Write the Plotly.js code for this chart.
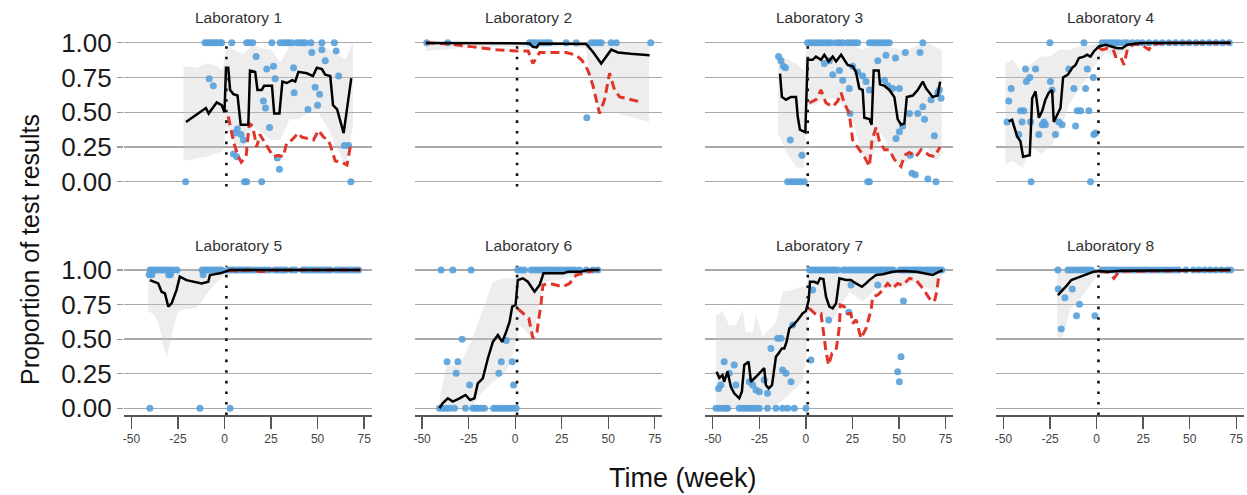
<!DOCTYPE html>
<html><head><meta charset="utf-8">
<script src="https://cdn.plot.ly/plotly-3.0.1.min.js"></script>
<style>html,body{margin:0;padding:0;background:#fff}#chart{width:1247px;height:495px}</style>
</head><body><div id="chart"></div>
<script>
const LAB_NAMES = ['Laboratory 1','Laboratory 2','Laboratory 3','Laboratory 4','Laboratory 5','Laboratory 6','Laboratory 7','Laboratory 8'];
const X_TICKS = [-50,-25,0,25,50,75];
const X_TICK_TEXT = ['-50','-25','0','25','50','75'];
const Y_TICKS = [0,0.25,0.5,0.75,1];
const Y_TICK_TEXT = ['0.00','0.25','0.50','0.75','1.00'];
const INTERVENTION_WEEK = 1;
const X_TITLE = 'Time (week)';
const Y_TITLE = 'Proportion of test results';

// ---- Laboratory 1 ----
const lab1PtsX = [-10.5,-9.2,-7.8,-6.4,-5.1,-3.9,-2.4,-1.5,3.9,11.9,13.4,15.2,25.4,29.9,31.7,33.5,34.4,36.2,38.9,40.7,42.1,43.4,46.4,52.3,59,
  -8.2,-6.0,46.9,52.3,60.0,17,54.1,26.3,22.7,37.1,61.3,27.2,37.4,48.7,51.1,50,44.8,20.9,22,24.2,6.9,5.7,8.9,10.2,4.8,6.6,28.4,29.5,64.4,66.7,
  -20.9,10.7,11.9,20,67.9];
const lab1PtsY = [1,1,1,1,1,1,1,1,1,1,1,1,1,1,1,1,1,1,1,1,1,1,1,1,1,
  0.74,0.69,0.93,0.95,0.94,0.90,0.87,0.83,0.81,0.82,0.76,0.74,0.64,0.68,0.63,0.55,0.52,0.58,0.53,0.39,0.38,0.35,0.34,0.30,0.20,0.18,0.17,0.09,0.26,0.26,
  0,0,0,0,0];
const lab1LineX = [-20.7,-10,-8.5,-4.2,-1.5,0,0.8,2,3,4.8,7,8.7,12.8,13.7,16.5,17.7,20,21.3,25.5,26.7,29.5,31.1,33.5,36.4,38,39.7,44.3,47.5,49.6,52.3,54.1,56.8,58.3,60.5,64,68.1];
const lab1LineY = [0.43,0.53,0.49,0.57,0.55,0.50,0.82,0.82,0.66,0.63,0.62,0.41,0.41,0.80,0.79,0.66,0.66,0.69,0.69,0.49,0.49,0.72,0.71,0.73,0.72,0.79,0.78,0.76,0.82,0.81,0.77,0.76,0.55,0.52,0.35,0.745];
const lab1RedX = [2,3,5,7.4,9,11.6,13.3,15.1,17.3,19,21.7,23.5,26.2,28.9,31.6,33.4,36.1,39.7,41.5,45.1,47.8,50.5,53.2,55.9,57.7,59.5,63.1,65.8,67.6];
const lab1RedY = [0.47,0.40,0.28,0.18,0.14,0.18,0.42,0.40,0.25,0.34,0.28,0.25,0.18,0.19,0.18,0.28,0.30,0.35,0.32,0.31,0.30,0.37,0.32,0.30,0.22,0.15,0.14,0.12,0.255];
const lab1BandX = [-22,-15,-10,-5,-1,1,5,10,15,20,25,30,35,40,45,50,55,60,65,69];
const lab1BandHi = [0.83,0.82,0.85,0.84,0.80,0.98,0.95,0.92,0.98,0.96,0.95,0.86,0.98,1.0,0.98,1.0,0.96,0.92,0.88,1.0];
const lab1BandLo = [0.15,0.17,0.18,0.20,0.22,0.40,0.28,0.25,0.40,0.35,0.30,0.30,0.45,0.45,0.50,0.50,0.40,0.25,0.12,0.40];

// ---- Laboratory 2 ----
const lab2PtsX = [-47.5,-36.2,7.7,9.1,10.9,12.7,14.9,16.7,18.5,27.4,32.8,40.9,42.7,44.5,46.2,51.6,54.3,72.8,38.5];
const lab2PtsY = [1,1,1,1,1,1,1,1,1,1,1,1,1,1,1,1,1,1,0.46];
const lab2LineX = [-48,-20,0,7.7,9.5,11.5,13,20,30,38.2,42,46.2,51.6,55.2,62,72.2];
const lab2LineY = [0.997,0.995,0.995,0.995,0.97,0.966,0.995,0.995,0.995,0.99,0.93,0.85,0.95,0.93,0.92,0.91];
const lab2RedX = [-48,-35,-22.8,-10,0.5,7,9.5,13.1,20,27.4,32.8,36,39.1,41.8,45.3,48,50.7,53.4,56.1,62,68.6];
const lab2RedY = [1.0,0.99,0.97,0.95,0.94,0.94,0.85,0.93,0.93,0.93,0.91,0.87,0.80,0.69,0.49,0.59,0.78,0.66,0.61,0.59,0.57];
const lab2BandX = [-48,-30,-10,0,10,20,30,38,42,46,55,72];
const lab2BandHi = [1,1,1,1,1,1,1,1,1,1,1,1];
const lab2BandLo = [0.94,0.96,0.97,0.97,0.96,0.97,0.97,0.96,0.62,0.50,0.49,0.43];

// ---- Laboratory 3 ----
const lab3PtsX = [0.9,2.7,4.5,6.3,8.1,9.9,11.7,13.5,16.2,18,19.8,22.4,24.2,26,27.8,34.1,35.9,37.7,39.5,41.3,43.1,44.8,62.8,
  -9.8,-8,-6.2,-4.4,-2.7,-0.9,33.2,34.1,
  -14.7,-13.4,-12.1,-11,-8.4,-2.1,9.9,12.6,18,14.4,19.8,23.3,23.7,25.1,27.8,30.5,32.3,34.1,38.6,43,48.1,53.4,61.3,
  42.2,44,46.6,50.2,55.6,60.1,62.8,63.7,52,50.2,48.4,56.1,57,58.8,65.5,69.9,69,67.2,70.8,72.6,71.7];
const lab3PtsY = [1,1,1,1,1,1,1,1,1,1,1,1,1,1,1,1,1,1,1,1,1,1,1,
  0,0,0,0,0,0,0,0,
  0.90,0.87,0.83,0.82,0.30,0.19,0.85,0.87,0.80,0.77,0.73,0.67,0.49,0.83,0.79,0.76,0.72,0.66,0.87,0.91,0.89,0.93,0.93,
  0.73,0.69,0.67,0.67,0.49,0.49,0.54,0.45,0.40,0.36,0.31,0.19,0.06,0.05,0.02,0.0,0.33,0.59,0.64,0.60,0.66];
const lab3LineX = [-13.9,-12.9,-10.7,-8,-5.3,-4.4,-3.2,-0.3,0.9,3.6,5.4,8.1,9.9,12.2,14.4,16.2,18.9,20.6,22.4,25.1,26.9,28.7,30.5,31.4,34.1,35.3,36.4,39.1,39.8,42.2,44.8,47.5,49.3,51.1,52.9,54.2,57.4,60.1,62.8,64.6,68.1,70.8,72.1];
const lab3LineY = [0.777,0.61,0.59,0.61,0.61,0.47,0.374,0.355,0.877,0.877,0.90,0.877,0.913,0.865,0.90,0.865,0.913,0.877,0.84,0.83,0.79,0.67,0.66,0.46,0.45,0.41,0.80,0.80,0.70,0.69,0.66,0.61,0.45,0.41,0.42,0.61,0.62,0.66,0.72,0.67,0.61,0.62,0.72];
const lab3RedX = [1.8,5.4,8.1,10.8,14.4,17.1,18.9,20.6,23.3,25.1,28.7,31.4,34.1,35.5,37.7,39.5,42.2,44.8,47.5,51.1,52.9,55.6,59.2,61.9,66.3,69,72.1];
const lab3RedY = [0.566,0.59,0.66,0.566,0.54,0.58,0.64,0.566,0.49,0.30,0.23,0.18,0.11,0.30,0.39,0.29,0.23,0.23,0.16,0.11,0.19,0.21,0.18,0.23,0.19,0.18,0.25];
const lab3BandX = [-15,-10,-5,-1,0.5,5,10,15,20,25,30,35,40,45,50,55,60,65,70,73];
const lab3BandHi = [0.92,0.88,0.85,0.80,1.0,1.0,1.0,1.0,1.0,0.98,0.95,0.97,1.0,0.97,0.95,0.95,0.98,1.0,0.97,0.95];
const lab3BandLo = [0.35,0.20,0.10,0.10,0.55,0.55,0.60,0.60,0.55,0.45,0.20,0.15,0.35,0.25,0.12,0.15,0.20,0.25,0.15,0.20];

// ---- Laboratory 4 ----
const lab4PtsX = [-25.1,-6.8,3,4.8,6.6,8.4,10.2,12,14.7,16.5,19.2,21.9,24.6,28.1,31.7,35.3,38.9,42.5,46.1,49.7,53.3,56.9,60.5,64.1,67.7,71.3,
  -38.2,-32.8,-35.9,-37.7,-45.9,-47.2,-40.9,-39.1,-40,-48.1,-41.8,-35.5,-31,-28.3,-29.2,-27.5,-24.8,-23.9,-22.1,-20.3,
  -18.5,-14.9,-12.2,-10.4,-8.6,-11.3,-5.9,-5,-4.2,-1.8,-1.5,-0.6,-35.2,-3.3];
const lab4PtsY = [1,1,1,1,1,1,1,1,1,1,1,1,1,1,1,1,1,1,1,1,1,1,1,1,1,1,
  0.81,0.81,0.75,0.72,0.67,0.58,0.51,0.51,0.43,0.43,0.34,0.43,0.34,0.43,0.41,0.41,0.72,0.66,0.34,0.43,
  0.41,0.81,0.67,0.51,0.51,0.40,0.67,0.81,0.51,0.75,0.34,0.35,0,0];
const lab4LineX = [-47.2,-45.4,-42.7,-40.9,-39.5,-35.9,-34.6,-32.8,-31,-29.2,-27.5,-25.7,-23.9,-23,-21.2,-19.4,-18,-15.4,-13.1,-11.3,-9.5,-6.8,-5.1,-3.3,-1.5,1.2,4.8,8.4,11.1,13.8,16.5,23.6,72];
const lab4LineY = [0.434,0.445,0.326,0.29,0.18,0.19,0.60,0.65,0.46,0.51,0.59,0.64,0.66,0.43,0.48,0.53,0.75,0.77,0.82,0.84,0.89,0.90,0.913,0.90,0.937,0.973,0.985,0.973,0.96,0.96,0.985,0.997,1.0];
const lab4RedX = [1.5,3,6,9.3,10.2,12.9,14.7,16.5,20,24,28.1,30,35,40,72];
const lab4RedY = [0.96,0.95,0.96,0.94,0.90,0.90,0.84,0.95,0.99,0.985,0.95,0.99,0.995,0.998,0.998];
const lab4BandX = [-49,-45,-40,-35,-30,-25,-20,-15,-10,-5,0,5,10,20,40,72];
const lab4BandHi = [0.85,0.88,0.78,0.85,0.90,0.90,0.95,0.95,0.97,0.98,0.99,1,1,1,1,1];
const lab4BandLo = [0.12,0.15,0.10,0.25,0.20,0.25,0.35,0.55,0.65,0.75,0.85,0.93,0.90,0.97,0.99,0.99];

// ---- Laboratory 5 ----
const lab5PtsX = [-40,-38.5,-37,-35.5,-34,-32.5,-31,-29.5,-27.5,-25.5,-12,-10.5,-9,-7.5,-6,-4.5,-3,-1.5,
  -40.5,-39,-30,-29,-11.5,
  2,3.5,5,6.5,8,9.5,11,12.5,14,16,18,20,22,24,27,28.5,30,31.5,33,36,38,42,43.5,45,46.5,48,49.5,51,52.5,54,55.5,57,60,62,64,66,68,70,72,
  -40.1,-13.2,3];
const lab5PtsY = [1,1,1,1,1,1,1,1,1,1,1,1,1,1,1,1,1,1,
  0.965,0.965,0.965,0.965,0.965,
  1,1,1,1,1,1,1,1,1,1,1,1,1,1,1,1,1,1,1,1,1,1,1,1,1,1,1,1,1,1,1,1,1,1,1,1,1,1,1,
  0,0,0];
const lab5LineX = [-40.1,-37.4,-35.6,-33.8,-32,-30.2,-28.4,-25.8,-24,-20.4,-16.8,-12.3,-8.7,-7.8,-2.4,0.3,3,73];
const lab5LineY = [0.927,0.915,0.903,0.843,0.831,0.735,0.759,0.855,0.952,0.927,0.915,0.903,0.915,0.964,0.976,0.988,1.0,1.0];
const lab5RedX = [2,5,7,9,15,19,22,25,40,73];
const lab5RedY = [1,0.997,0.988,0.997,0.998,0.99,0.99,0.998,1,1];
const lab5BandX = [-41,-38,-35,-33,-31,-28,-25,-20,-15,-10,-5,0,5,73];
const lab5BandHi = [1,1,1,1,1,1,1,1,1,1,1,1,1,1];
const lab5BandLo = [0.70,0.68,0.60,0.45,0.37,0.55,0.70,0.72,0.72,0.82,0.90,0.96,0.99,0.99];

// ---- Laboratory 6 ----
const lab6PtsX = [-39.8,-33.5,-23.7,1.4,3.2,5,8.6,10.4,12.2,14,15.8,17.6,19.4,21.2,23,24.8,26.6,28.4,30.2,32,34.6,38.2,41.8,44.4,
  -28.5,-36.6,-30.8,-4.8,-7.5,-1.6,-31.7,-8.8,-24.5,-0.9,
  -40.7,-38.9,-37.1,-35.3,-32.6,-26.7,-22.8,-21.3,-20.1,-18.3,-16.5,-11.6,-10.2,-8.4,-6.6,-4.8,-3.0,-1.2,0.5];
const lab6PtsY = [1,1,1,1,1,1,1,1,1,1,1,1,1,1,1,1,1,1,1,1,1,1,1,1,
  0.5,0.337,0.337,0.49,0.337,0.337,0.253,0.253,0.168,0.168,
  0,0,0,0,0,0,0,0,0,0,0,0,0,0,0,0,0,0,0];
const lab6LineX = [-40.7,-39,-36.2,-33.5,-29.9,-26.7,-24.2,-21.9,-20.1,-17.4,-14.7,-12,-9.3,-7,-4.8,-3,-1.6,0.2,1.4,4.1,6.8,10.4,13.1,15.2,20,26,28.4,35,39.1,45.3];
const lab6LineY = [0,0.036,0.072,0.048,0.072,0.096,0.06,0.072,0.18,0.217,0.36,0.48,0.53,0.48,0.554,0.626,0.735,0.747,0.927,0.94,0.915,0.843,0.891,0.976,0.976,0.976,0.988,0.988,1.0,1.0];
const lab6RedX = [1.4,5,7.3,9.5,11.7,14,14.9,18.5,22.9,25.6,29.2,32.8,36.4,41.8];
const lab6RedY = [0.72,0.675,0.65,0.506,0.554,0.771,0.891,0.903,0.891,0.879,0.903,0.964,0.976,0.993];
const lab6BandX = [-41,-37.1,-29.9,-22.8,-17.4,-12,-6.6,-3,0.5,2.3,9.5,13.1,16.7,27.4,41.8,45.3];
const lab6BandHi = [0.03,0.31,0.31,0.51,0.72,0.915,0.94,0.94,0.94,1,1,1,1,1,1,1];
const lab6BandLo = [0,0,0,0.02,0.12,0.19,0.24,0.31,0.48,0.60,0.506,0.77,0.915,0.94,0.99,0.99];

// ---- Laboratory 7 ----
const lab7PtsX = [-48.3,-46.5,-44.8,-43,-42.1,-35.8,-34,-32.2,-30.4,-28.6,-26.8,-25,-20.6,-16.1,-12.5,-9.8,-6.2,0,
  -43.9,-46.9,-45.7,-41.2,-38.5,-37.6,-30.4,-28.6,-26.8,-25,-22.4,-20.6,-18.8,-15.2,-13.4,-12.5,-10.7,-8,-7.1,2.7,
  3.6,12.2,23,24.2,38.6,52.4,51.1,49.3,50.2,
  2,3.5,5,6.5,8,9.5,11,12.5,14,15.5,17,20,21.5,23,24.5,26,27.5,29,30.5,32,33.5,35,36.5,38,39.5,41,42.5,44,45.5,47,
  50.5,52,53.5,55,56.5,58,59.5,61,62.5,64,65.5,67,68.5,70,71.5,73];
const lab7PtsY = [0,0,0,0,0,0,0,0,0,0,0,0,0,0,0,0,0,0,
  0.337,0.144,0.168,0.253,0.313,0.168,0.192,0.168,0.132,0.12,0.204,0.108,0.433,0.506,0.506,0.277,0.253,0.192,0.602,0.349,
  0.855,0.638,0.694,0.891,0.891,0.776,0.373,0.265,0.192,
  1,1,1,1,1,1,1,1,1,1,1,1,1,1,1,1,1,1,1,1,1,1,1,1,1,1,1,1,1,1,
  1,1,1,1,1,1,1,1,1,1,1,1,1,1,1,1];
const lab7LineX = [-48,-46.5,-44.8,-43.9,-42.1,-40.3,-38.5,-35.8,-34.4,-33.1,-30.8,-29.5,-26.8,-24.2,-22.4,-21.5,-20,-18.2,-16.1,-14.7,
  -12.9,-11.6,-10.4,-8.9,-6.8,-4.4,-1.8,0,1.5,2.2,4.5,6.3,7.6,9.4,10.8,12.6,14.4,16.2,18,21.5,
  24.2,26.9,30.1,32.3,34.1,37.7,41.3,46.6,52,59.3,64.6,68.1,70.8,73.5];
const lab7LineY = [0.265,0.22,0.24,0.192,0.265,0.155,0.108,0.072,0.12,0.313,0.337,0.192,0.228,0.265,0.29,0.168,0.144,0.168,0.373,0.397,
  0.433,0.433,0.48,0.578,0.602,0.638,0.686,0.703,0.783,0.915,0.915,0.903,0.94,0.935,0.807,0.735,0.723,0.759,0.94,0.928,
  0.928,0.903,0.879,0.903,0.927,0.964,0.97,0.988,0.993,0.988,0.976,0.964,0.983,1.0];
const lab7RedX = [1.8,5.4,8.1,9,9.9,10.8,12.2,14,16.2,18,18.5,20.6,22.4,24.2,25.1,27,29.6,32.3,35,35.9,38.6,41.3,43.9,46.6,49.3,52,55.6,59,62.8,66.3,69,70.3,71.4];
const lab7RedY = [0.723,0.679,0.686,0.578,0.482,0.41,0.313,0.397,0.42,0.59,0.747,0.735,0.686,0.686,0.614,0.64,0.506,0.578,0.711,0.807,0.819,0.855,0.903,0.867,0.903,0.89,0.94,0.93,0.867,0.795,0.771,0.843,0.964];
const lab7BandX = [-48.3,-44.8,-41.2,-37.6,-34,-32.2,-28.6,-26.8,-23.3,-16.1,-12.5,-8.9,-1.75,0,1.8,9,12.6,18,23.3,30.5,37.7,48.4,57.4,69.9,73.5];
const lab7BandHi = [0.675,0.70,0.60,0.60,0.71,0.55,0.55,0.68,0.52,0.62,0.843,0.85,0.88,0.88,1,1,1,1,1,1,1,1,1,1,1];
const lab7BandLo = [0,0,0,0,0,0,0,0,0,0.02,0.06,0.10,0.192,0.36,0.72,0.675,0.60,0.72,0.843,0.77,0.867,0.867,0.915,0.843,0.97];

// ---- Laboratory 8 ----
const lab8PtsX = [-20.8,-15.4,-13.6,-11.8,-10,-8.2,-6.4,-4.6,-2.8,
  2.8,4.6,6.4,8.2,10,12,14,16,18,20,22,24,26,28,30,32,34,36,38,40,42,44,48,52,55,58,61,64,67,70,72,
  -20.6,-17,-13.1,-9.2,-10.8,-19,-0.9];
const lab8PtsY = [1,1,1,1,1,1,1,1,1,
  1,1,1,1,1,1,1,1,1,1,1,1,1,1,1,1,1,1,1,1,1,1,1,1,1,1,1,1,1,1,1,
  0.862,0.80,0.862,0.752,0.67,0.573,0.67];
const lab8LineX = [-20.8,-18.5,-15.8,-13.6,-11.3,-8.6,-6,-1.5,2,6,13,72];
const lab8LineY = [0.819,0.85,0.891,0.928,0.94,0.952,0.968,0.988,0.993,0.988,0.995,1.0];
const lab8RedX = [2,6,8,9.3,12,72];
const lab8RedY = [0.99,0.985,0.96,0.94,0.99,0.998];
const lab8BandX = [-21.2,-18,-14,-8.6,-2,0,3,10,72];
const lab8BandHi = [1,1,1,1,1,1,1,1,1];
const lab8BandLo = [0.50,0.52,0.72,0.795,0.915,0.95,0.97,0.98,0.99];

const labs = [
  {px:lab1PtsX,py:lab1PtsY,lx:lab1LineX,ly:lab1LineY,rx:lab1RedX,ry:lab1RedY,bx:lab1BandX,bhi:lab1BandHi,blo:lab1BandLo},
  {px:lab2PtsX,py:lab2PtsY,lx:lab2LineX,ly:lab2LineY,rx:lab2RedX,ry:lab2RedY,bx:lab2BandX,bhi:lab2BandHi,blo:lab2BandLo},
  {px:lab3PtsX,py:lab3PtsY,lx:lab3LineX,ly:lab3LineY,rx:lab3RedX,ry:lab3RedY,bx:lab3BandX,bhi:lab3BandHi,blo:lab3BandLo},
  {px:lab4PtsX,py:lab4PtsY,lx:lab4LineX,ly:lab4LineY,rx:lab4RedX,ry:lab4RedY,bx:lab4BandX,bhi:lab4BandHi,blo:lab4BandLo},
  {px:lab5PtsX,py:lab5PtsY,lx:lab5LineX,ly:lab5LineY,rx:lab5RedX,ry:lab5RedY,bx:lab5BandX,bhi:lab5BandHi,blo:lab5BandLo},
  {px:lab6PtsX,py:lab6PtsY,lx:lab6LineX,ly:lab6LineY,rx:lab6RedX,ry:lab6RedY,bx:lab6BandX,bhi:lab6BandHi,blo:lab6BandLo},
  {px:lab7PtsX,py:lab7PtsY,lx:lab7LineX,ly:lab7LineY,rx:lab7RedX,ry:lab7RedY,bx:lab7BandX,bhi:lab7BandHi,blo:lab7BandLo},
  {px:lab8PtsX,py:lab8PtsY,lx:lab8LineX,ly:lab8LineY,rx:lab8RedX,ry:lab8RedY,bx:lab8BandX,bhi:lab8BandHi,blo:lab8BandLo}
];

// ---- layout geometry (pixels) ----
const W = 1247, H = 495;
const X_RANGE = [-54, 79];
const Y_RANGE = [-0.05, 1.05];
const PX_PER_WEEK = 1.8616;
const COL_ZERO_PX = [224.5, 515.2, 805.9, 1096.6];
const ROW_PX = [[35.75, 188.65], [263.1, 415.2]]; // top, bottom
const FONT = 'Liberation Sans, Arial, sans-serif';

const traces = [];
const layout = {
  width: W, height: H,
  margin: {l:0, r:0, t:0, b:0},
  paper_bgcolor: '#fff', plot_bgcolor: 'rgba(0,0,0,0)',
  showlegend: false,
  font: {family: FONT, color: '#222'},
  shapes: [], annotations: []
};

labs.forEach((lab, i) => {
  const n = i + 1;
  const sfx = n === 1 ? '' : String(n);
  const row = i < 4 ? 0 : 1;
  const col = i % 4;
  const z = COL_ZERO_PX[col];
  const left = z + X_RANGE[0] * PX_PER_WEEK;
  const right = z + X_RANGE[1] * PX_PER_WEEK;
  const [top, bottom] = ROW_PX[row];
  const xa = 'x' + sfx, ya = 'y' + sfx;

  layout['xaxis' + sfx] = {
    domain: [left / W, right / W], range: X_RANGE, anchor: ya,
    showgrid: false, zeroline: false, fixedrange: true,
    tickvals: X_TICKS, ticktext: X_TICK_TEXT,
    showticklabels: row === 1, showline: row === 1,
    ticks: row === 1 ? 'outside' : '', ticklen: 12, tickwidth: 1.3, tickcolor: '#555',
    linecolor: '#555', linewidth: 1.5,
    tickfont: {size: 12, color: '#444', family: FONT}
  };
  layout['yaxis' + sfx] = {
    domain: [1 - bottom / H, 1 - top / H], range: Y_RANGE, anchor: xa,
    showgrid: true, gridcolor: '#a9a9a9', gridwidth: 1.4, zeroline: false, fixedrange: true,
    tickvals: Y_TICKS, ticktext: Y_TICK_TEXT,
    showticklabels: col === 0, ticks: col === 0 ? 'outside' : '', ticklen: 6, tickcolor: '#999', tickwidth: 1.2,
    showline: false,
    tickfont: {size: 26, color: '#1a1a1a', family: FONT}
  };

  // confidence band
  traces.push({
    type: 'scatter', mode: 'lines', xaxis: xa, yaxis: ya, hoverinfo: 'skip',
    x: lab.bx.concat(lab.bx.slice().reverse()),
    y: lab.blo.concat(lab.bhi.slice().reverse()),
    fill: 'toself', fillcolor: 'rgba(200,200,200,0.33)', line: {width: 0}
  });
  // observed points
  traces.push({
    type: 'scatter', mode: 'markers', xaxis: xa, yaxis: ya,
    x: lab.px, y: lab.py,
    marker: {size: 7, color: 'rgba(88,160,218,0.9)', line: {width: 0}}
  });
  // red dashed
  traces.push({
    type: 'scatter', mode: 'lines', xaxis: xa, yaxis: ya,
    x: lab.rx, y: lab.ry,
    line: {color: '#e0352b', width: 3, dash: '9px,5px'}
  });
  // black line
  traces.push({
    type: 'scatter', mode: 'lines', xaxis: xa, yaxis: ya,
    x: lab.lx, y: lab.ly,
    line: {color: '#000', width: 2.5}
  });

  layout.shapes.push({
    type: 'line', xref: xa, yref: ya, layer: 'above',
    x0: INTERVENTION_WEEK, x1: INTERVENTION_WEEK, y0: row === 1 ? -0.05 : -0.035, y1: 1.03,
    line: {color: '#111', width: 2.6, dash: '2.6px,8px'}
  });

  layout.annotations.push({
    xref: 'paper', yref: 'paper', x: (z + 13.5) / W, y: row === 0 ? 1 - 17.5 / H : 1 - 245 / H,
    xanchor: 'center', yanchor: 'middle', showarrow: false,
    text: LAB_NAMES[i], font: {size: 15.5, color: '#333', family: FONT}
  });
});

layout.annotations.push({
  xref: 'paper', yref: 'paper', x: 683 / W, y: 1 - 478 / H, xanchor: 'center', yanchor: 'middle',
  showarrow: false, text: X_TITLE, font: {size: 27, color: '#111', family: FONT}
});
layout.annotations.push({
  xref: 'paper', yref: 'paper', x: 30 / W, y: 1 - 250 / H, xanchor: 'center', yanchor: 'middle',
  showarrow: false, textangle: -90, text: Y_TITLE, font: {size: 25, color: '#111', family: FONT}
});

Plotly.newPlot('chart', traces, layout, {staticPlot: true, displayModeBar: false});
</script>
</body></html>
